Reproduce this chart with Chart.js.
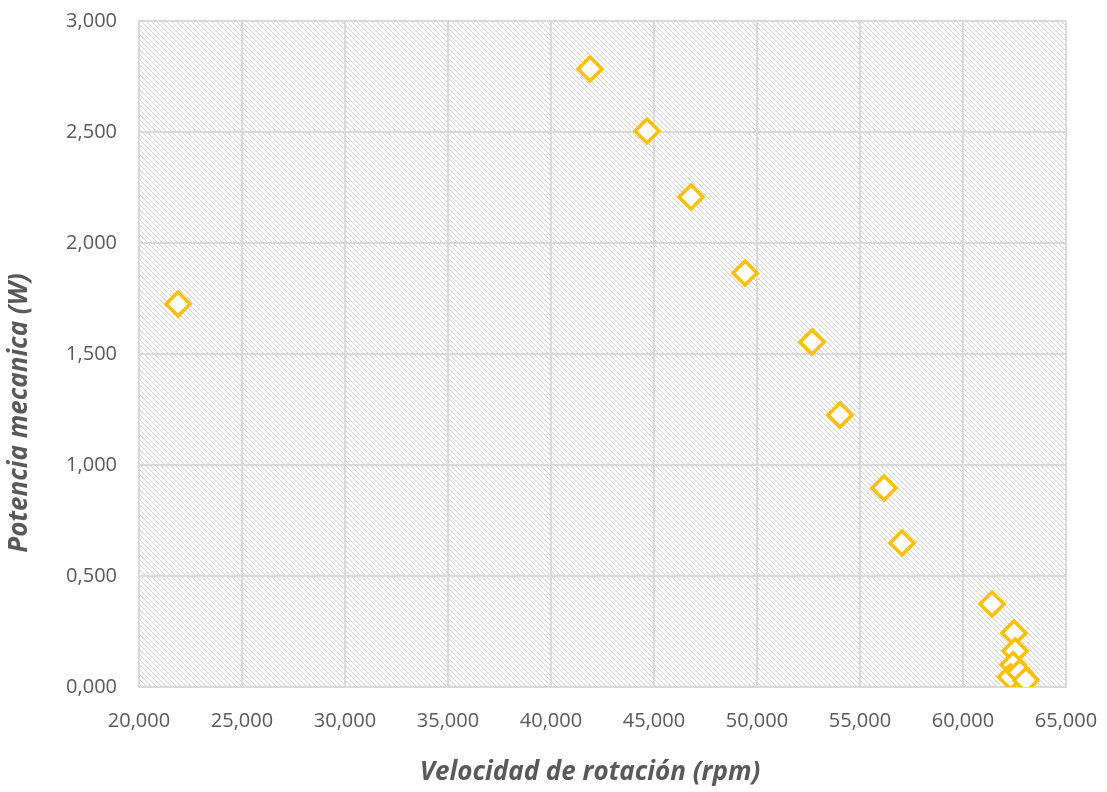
<!DOCTYPE html>
<html>
<head>
<meta charset="utf-8">
<script src="https://cdn.jsdelivr.net/npm/chart.js@4/dist/chart.umd.min.js"></script>
<style>
html,body{margin:0;padding:0;background:#fff;}
#wrap{width:1107px;height:792px;position:relative;}
</style>
</head>
<body>
<div id="wrap"><canvas id="c" width="1107" height="792"></canvas></div>
<script>
const rpm = [21893, 41893, 44660, 46796, 49417, 52670, 54029, 56165, 57039, 61408, 62476, 62524, 62430, 62300, 62750, 63050];
const potencia = [1.725, 2.784, 2.505, 2.207, 1.865, 1.554, 1.225, 0.896, 0.649, 0.374, 0.243, 0.162, 0.100, 0.045, 0.065, 0.030];
const xTitle = 'Velocidad de rotación (rpm)';
const yTitle = 'Potencia mecanica (W)';

const FONT = '"Open Sans", "Noto Sans", sans-serif';
const TEXT = '#595959';

function makePattern(ctx){
  const p = document.createElement('canvas');
  p.width = 5; p.height = 5;
  const pc = p.getContext('2d');
  pc.fillStyle = '#ffffff';
  pc.fillRect(0,0,5,5);
  pc.fillStyle = '#d4d4d4';
  for(let i=0;i<5;i++){ pc.fillRect(i,i,1,1); }
  return ctx.createPattern(p,'repeat');
}

const hatch = {
  id:'hatch',
  beforeDraw(chart){
    const {ctx, chartArea:a} = chart;
    ctx.save();
    ctx.fillStyle = makePattern(ctx);
    ctx.fillRect(a.left, a.top, a.right-a.left, a.bottom-a.top);
    ctx.restore();
  }
};

const titles = {
  id:'titles',
  afterDraw(chart){
    const {ctx} = chart;
    ctx.save();
    ctx.fillStyle = TEXT;
    ctx.font = 'italic bold 26px ' + FONT;
    ctx.textAlign = 'center';
    ctx.textBaseline = 'middle';
    ctx.fillText(xTitle, 590, 773);
    ctx.translate(20, 413);
    ctx.rotate(-Math.PI/2);
    ctx.fillText(yTitle, 0, 0);
    ctx.restore();
  }
};

new Chart(document.getElementById('c'), {
  type:'scatter',
  data:{
    datasets:[{
      data: rpm.map((x,i)=>({x, y: potencia[i]})),
      pointStyle:'rectRot',
      pointRadius:12,
      pointHoverRadius:12,
      borderColor:'#FFC000',
      backgroundColor:'#ffffff',
      borderWidth:3.5,
      pointBorderWidth:3.5
    }]
  },
  options:{
    responsive:false,
    animation:false,
    devicePixelRatio:1,
    layout:{padding:{left:0, right:41, top:21, bottom:0}},
    plugins:{legend:{display:false}, tooltip:{enabled:false}},
    scales:{
      x:{
        type:'linear', min:20000, max:65000,
        afterFit(s){ s.height = 105; },
        grid:{color:'#d9d9d9', lineWidth:2, drawTicks:true, tickLength:18, tickColor:'rgba(0,0,0,0)'},
        border:{color:'#d9d9d9', width:2},
        ticks:{stepSize:5000, color:TEXT, padding:4, font:{family:FONT, size:20},
          callback:v=>v.toLocaleString('en-US')}
      },
      y:{
        type:'linear', min:0, max:3,
        afterFit(s){ s.width = 139; },
        grid:{color:'#d9d9d9', lineWidth:2, drawTicks:true, tickLength:18, tickColor:'rgba(0,0,0,0)'},
        border:{color:'#d9d9d9', width:2},
        ticks:{stepSize:0.5, color:TEXT, padding:4, font:{family:FONT, size:20},
          callback:v=>v.toFixed(3).replace('.',',')}
      }
    }
  },
  plugins:[hatch, titles]
});
</script>
</body>
</html>
